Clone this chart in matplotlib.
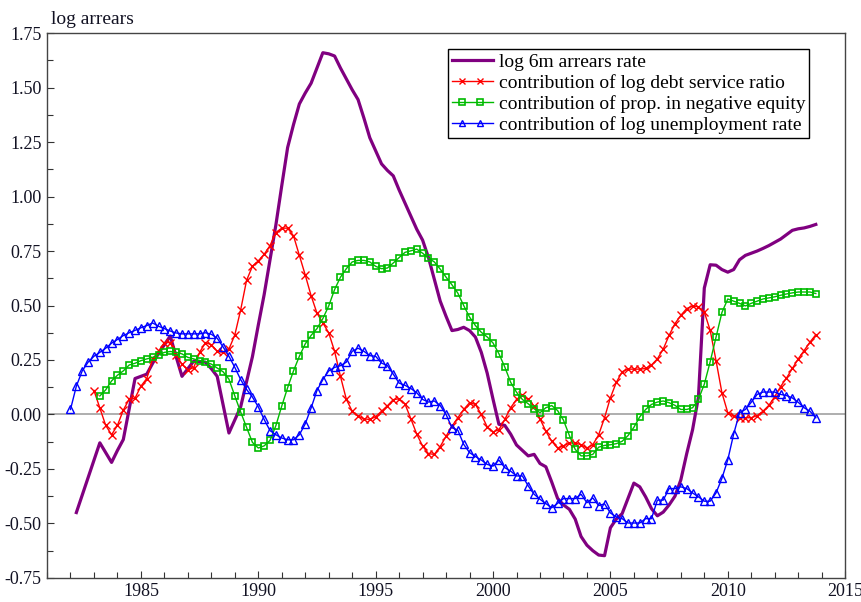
import numpy as np
import matplotlib
matplotlib.use("Agg")
import matplotlib.pyplot as plt
import matplotlib.ticker as ticker
from matplotlib.legend_handler import HandlerLine2D
from matplotlib.lines import Line2D

plt.rcParams['font.family'] = ['Liberation Serif', 'DejaVu Serif']

# quarterly series, values
arrears_start = 1982.25
arrears = [-0.45, -0.37, -0.29, -0.21, -0.13, -0.175, -0.22, -0.165, -0.115, 0.025,
           0.165, 0.175, 0.185, 0.235, 0.28, 0.32, 0.36, 0.265, 0.175, 0.21,
           0.245, 0.243, 0.24, 0.21, 0.175, 0.045, -0.085, -0.025, 0.035, 0.15,
           0.265, 0.41, 0.55, 0.71, 0.87, 1.05, 1.225, 1.33, 1.425, 1.475,
           1.52, 1.59, 1.66, 1.655, 1.645, 1.59, 1.54, 1.49, 1.445, 1.36,
           1.27, 1.21, 1.15, 1.12, 1.095, 1.03, 0.97, 0.91, 0.85, 0.80,
           0.72, 0.62, 0.52, 0.45, 0.385, 0.39, 0.40, 0.385, 0.355, 0.285,
           0.19, 0.07, -0.045, -0.05, -0.09, -0.14, -0.165, -0.19, -0.183, -0.225,
           -0.24, -0.31, -0.385, -0.415, -0.435, -0.48, -0.56, -0.60, -0.625, -0.645,
           -0.648, -0.52, -0.48, -0.455, -0.385, -0.315, -0.332, -0.378, -0.432, -0.465,
           -0.448, -0.415, -0.375, -0.30, -0.18, -0.07, 0.08, 0.58, 0.687, 0.685,
           0.665, 0.653, 0.665, 0.71, 0.73, 0.74, 0.75, 0.762, 0.775, 0.79,
           0.805, 0.825, 0.845, 0.852, 0.856, 0.863, 0.872]

dsr_start = 1983.0
dsr = [0.11, 0.03, -0.05, -0.093, -0.05, 0.02, 0.07, 0.075, 0.13, 0.165,
       0.255, 0.29, 0.33, 0.33, 0.275, 0.23, 0.205, 0.215, 0.285, 0.33,
       0.32, 0.29, 0.285, 0.30, 0.365, 0.48, 0.615, 0.68, 0.705, 0.735,
       0.775, 0.835, 0.855, 0.855, 0.82, 0.73, 0.64, 0.545, 0.465, 0.42,
       0.375, 0.29, 0.175, 0.07, 0.015, -0.008, -0.02, -0.023, -0.01, 0.015,
       0.04, 0.068, 0.072, 0.048, -0.02, -0.09, -0.145, -0.18, -0.183, -0.147,
       -0.10, -0.054, -0.015, 0.023, 0.054, 0.046, 0.0, -0.057, -0.08, -0.07,
       -0.023, 0.031, 0.069, 0.09, 0.069, 0.039, -0.02, -0.077, -0.123, -0.154,
       -0.144, -0.131, -0.131, -0.139, -0.154, -0.139, -0.093, -0.015, 0.077, 0.147,
       0.196, 0.208, 0.208, 0.208, 0.211, 0.227, 0.255, 0.30, 0.363, 0.417,
       0.455, 0.486, 0.498, 0.494, 0.47, 0.386, 0.247, 0.10, 0.008, -0.008,
       -0.015, -0.015, -0.015, -0.005, 0.015, 0.042, 0.082, 0.128, 0.167, 0.211,
       0.255, 0.293, 0.332, 0.366]

negeq_start = 1983.25
negeq = [0.085, 0.113, 0.154, 0.18, 0.20, 0.227, 0.235, 0.247, 0.255, 0.262,
         0.273, 0.285, 0.289, 0.285, 0.278, 0.262, 0.255, 0.247, 0.242, 0.231,
         0.213, 0.196, 0.162, 0.085, 0.011, -0.059, -0.128, -0.154, -0.144, -0.119,
         -0.051, 0.039, 0.123, 0.20, 0.267, 0.324, 0.363, 0.394, 0.44, 0.498,
         0.573, 0.63, 0.669, 0.70, 0.707, 0.707, 0.70, 0.68, 0.669, 0.672,
         0.695, 0.72, 0.744, 0.751, 0.759, 0.74, 0.717, 0.70, 0.667, 0.63,
         0.595, 0.557, 0.50, 0.447, 0.408, 0.377, 0.356, 0.328, 0.279, 0.218,
         0.148, 0.102, 0.069, 0.049, 0.026, 0.008, 0.031, 0.041, 0.018, -0.026,
         -0.096, -0.16, -0.19, -0.19, -0.183, -0.15, -0.142, -0.139, -0.134, -0.123,
         -0.097, -0.059, -0.011, 0.023, 0.046, 0.057, 0.062, 0.054, 0.042, 0.023,
         0.023, 0.031, 0.069, 0.139, 0.242, 0.355, 0.468, 0.53, 0.52, 0.51,
         0.498, 0.51, 0.52, 0.53, 0.535, 0.54, 0.547, 0.553, 0.558, 0.562,
         0.562, 0.562, 0.555]

unemp_start = 1982.0
unemp = [0.023, 0.13, 0.20, 0.24, 0.267, 0.285, 0.304, 0.327, 0.344, 0.362,
         0.375, 0.386, 0.398, 0.408, 0.42, 0.405, 0.394, 0.383, 0.374, 0.37,
         0.37, 0.37, 0.37, 0.375, 0.368, 0.35, 0.31, 0.267, 0.216, 0.16,
         0.115, 0.08, 0.035, -0.023, -0.074, -0.093, -0.108, -0.116, -0.116, -0.093,
         -0.043, 0.03, 0.11, 0.16, 0.20, 0.216, 0.224, 0.24, 0.29, 0.304,
         0.29, 0.27, 0.267, 0.236, 0.224, 0.185, 0.144, 0.134, 0.119, 0.10,
         0.069, 0.057, 0.062, 0.041, 0.0, -0.061, -0.072, -0.137, -0.175, -0.193,
         -0.209, -0.229, -0.237, -0.209, -0.244, -0.26, -0.282, -0.282, -0.328, -0.366,
         -0.389, -0.409, -0.428, -0.408, -0.386, -0.386, -0.386, -0.366, -0.405, -0.383,
         -0.418, -0.41, -0.452, -0.47, -0.478, -0.498, -0.498, -0.498, -0.478, -0.478,
         -0.393, -0.393, -0.34, -0.34, -0.332, -0.34, -0.36, -0.378, -0.398, -0.398,
         -0.36, -0.293, -0.208, -0.09, 0.008, 0.023, 0.056, 0.092, 0.103, 0.103,
         0.103, 0.092, 0.087, 0.076, 0.056, 0.031, 0.015, -0.015]


def quarters(start, vals):
    return start + 0.25 * np.arange(len(vals))


class InsetMarkers(HandlerLine2D):
    # line over the full handle, two markers set in from the ends
    def create_artists(self, legend, orig_handle, xdescent, ydescent,
                       width, height, fontsize, trans):
        xdata = -xdescent + width * np.array([0.0, 0.25, 0.69, 1.0])
        ydata = np.full_like(xdata, (height - ydescent) / 2)
        legline = Line2D(xdata, ydata)
        self.update_prop(legline, orig_handle, legend)
        legline.set_markevery([1, 2])
        legline.set_markersize(legline.get_markersize() * 0.75)
        legline.set_transform(trans)
        return [legline]


fig = plt.figure(figsize=(8.61, 6.02), dpi=100)
ax = fig.add_axes([0.0546, 0.040, 0.927, 0.905])

ax.axhline(0, color='#a8a8a8', lw=1.3, zorder=1)

ax.plot(quarters(arrears_start, arrears), arrears, color='#800080', lw=2.3,
        label='log 6m arrears rate', zorder=3)
ax.plot(quarters(dsr_start, dsr), dsr, color='#ff0000', lw=1.0, marker='x',
        ms=6, mew=1.0, label='contribution of log debt service ratio', zorder=4)
ax.plot(quarters(negeq_start, negeq), negeq, color='#00bb00', lw=1.0, marker='s',
        ms=5, mew=1.2, mfc='none', label='contribution of prop. in negative equity', zorder=4)
ax.plot(quarters(unemp_start, unemp), unemp, color='#0000ff', lw=1.0, marker='^',
        ms=6, mew=1.0, mfc='none', label='contribution of log unemployment rate', zorder=4)

ax.set_xlim(1981, 2015)
ax.set_ylim(-0.75, 1.75)
ax.xaxis.set_major_locator(ticker.MultipleLocator(5))
ax.xaxis.set_minor_locator(ticker.MultipleLocator(1))
ax.yaxis.set_major_locator(ticker.MultipleLocator(0.25))
ax.yaxis.set_minor_locator(ticker.MultipleLocator(0.125))
ax.yaxis.set_major_formatter(ticker.FormatStrFormatter('%.2f'))
ax.xaxis.set_major_formatter(ticker.FuncFormatter(
    lambda v, pos: '' if v < 1985 else '%d' % v))

ax.tick_params(which='both', direction='in', top=False, right=False,
               color='#333333', labelsize=13, labelcolor='#111122')
ax.tick_params(which='major', length=5, width=0.8, pad=4)
ax.tick_params(which='minor', length=4, width=0.8)
for s in ax.spines.values():
    s.set_color('#444444')
    s.set_linewidth(1.0)

ax.text(0.005, 1.01, 'log arrears', transform=ax.transAxes, fontsize=14,
        ha='left', va='bottom', color='#111122')

leg = ax.legend(loc='upper left', bbox_to_anchor=(0.5025, 0.9706), fontsize=14,
                handler_map={Line2D: InsetMarkers()},
                handlelength=2.1, handletextpad=0.3,
                borderpad=0.2, labelspacing=0.17, fancybox=False,
                framealpha=1, edgecolor='black', borderaxespad=0)
leg.get_frame().set_linewidth(1.0)

fig.savefig('out.png', dpi=100)
